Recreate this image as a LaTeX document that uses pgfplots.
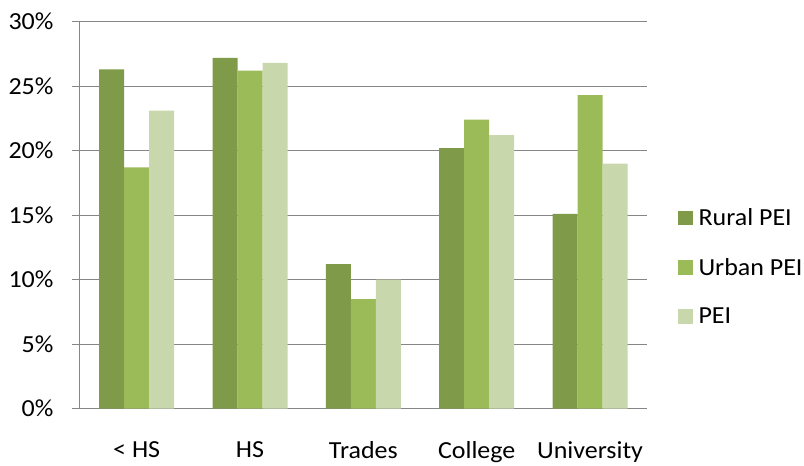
\documentclass[border=0pt]{standalone}
\usepackage{fontspec}
\setmainfont{Carlito}[FakeStretch=1.06]
\usepackage{pgfplots}
\pgfplotsset{compat=1.18}
\definecolor{rural}{HTML}{7F9B49}
\definecolor{urban}{HTML}{9BBB59}
\definecolor{pei}{HTML}{C8D7AC}
\definecolor{gridgray}{HTML}{868686}
\newcommand{\lblfont}{\fontsize{24.5}{29}\selectfont}
\begin{document}
\begin{tikzpicture}
\begin{axis}[
  scale only axis,
  width=566.7pt, height=387pt,
  xmin=-0.5, xmax=4.5,
  ymin=0, ymax=30,
  ybar=0pt, bar width=25pt,
  axis x line*=bottom, axis y line*=left,
  axis line style={gridgray, line width=1pt, -},
  ymajorgrids, grid style={gridgray, line width=1pt},
  tick align=outside,
  major tick length=8pt, minor tick length=8pt,
  tick style={gridgray, line width=1pt},
  xtick={0,...,4},
  xticklabels={{< HS},HS,Trades,College,University},
  x tick style={draw=none},
  minor xtick={-0.5,0.5,...,4.5},
  minor x tick style={gridgray, line width=1pt},
  ytick={0,5,...,30},
  yticklabels={0\%,5\%,10\%,15\%,20\%,25\%,30\%},
  ticklabel style={font=\lblfont},
  xticklabel style={yshift=-21pt},
  yticklabel style={xshift=-15pt},
  legend style={draw=none, fill=none, font=\lblfont,
    at={(1.055,0.366)}, anchor=west, inner sep=0pt,
    row sep=27pt,
    /tikz/every odd column/.append style={column sep=4pt}},
  legend cell align=left,
  legend image code/.code={\fill[#1] (0pt,-7pt) rectangle (14.5pt,7.5pt);},
]
\addplot[fill=rural, draw=none] coordinates {(0,26.3) (1,27.2) (2,11.2) (3,20.2) (4,15.1)};
\addplot[fill=urban, draw=none] coordinates {(0,18.7) (1,26.2) (2,8.5) (3,22.4) (4,24.3)};
\addplot[fill=pei, draw=none] coordinates {(0,23.1) (1,26.8) (2,10.0) (3,21.2) (4,19.0)};
\legend{Rural PEI, Urban PEI, PEI}
\end{axis}
\pgfresetboundingbox
\path (current axis.south west) ++(-80pt,-57.3pt) rectangle ++(804pt,466pt);
\end{tikzpicture}
\end{document}
